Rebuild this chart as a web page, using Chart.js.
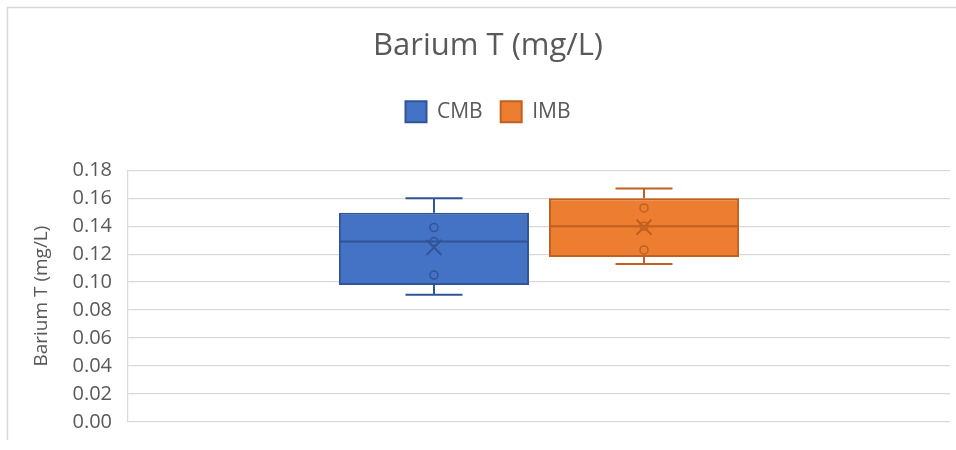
<!DOCTYPE html>
<html>
<head>
<meta charset="utf-8">
<script src="https://cdn.jsdelivr.net/npm/chart.js@4/dist/chart.umd.min.js"></script>
<style>
  html, body { margin: 0; padding: 0; background: #ffffff; }
  #wrap { width: 956px; height: 450px; position: relative; }
</style>
</head>
<body>
<div id="wrap"><canvas id="chart"></canvas></div>
<script>
// Series names and raw measurements (mg/L)
const seriesNames = ['CMB', 'IMB'];
const cmbValues = [0.091, 0.105, 0.129, 0.139, 0.160];
const imbValues = [0.113, 0.123, 0.140, 0.153, 0.167];
const categoryLabels = [''];
const yTicks = { min: 0, max: 0.18, step: 0.02 };

const fillColors = ['#4472C4', '#ED7D31'];
const lineColors = ['#2F5597', '#C0601E'];

// Quartiles with the exclusive method: position p*(n+1)
function quantileExc(sorted, p) {
  const pos = p * (sorted.length + 1);
  const lo = Math.floor(pos), frac = pos - lo;
  const a = sorted[Math.max(lo - 1, 0)];
  const b = sorted[Math.min(lo, sorted.length - 1)];
  return a + (b - a) * frac;
}
function summarize(values) {
  const s = [...values].sort((a, b) => a - b);
  return {
    min: s[0],
    max: s[s.length - 1],
    q1: quantileExc(s, 0.25),
    median: quantileExc(s, 0.5),
    q3: quantileExc(s, 0.75),
    mean: s.reduce((t, v) => t + v, 0) / s.length,
    inner: s.slice(1, -1)
  };
}
const stats = [summarize(cmbValues), summarize(imbValues)];

// Whiskers, median line, inner points and mean marker drawn on top of each box
const boxDetails = {
  id: 'boxDetails',
  afterDatasetsDraw(chart) {
    const ctx = chart.ctx;
    const y = chart.scales.y;
    chart.data.datasets.forEach((ds, i) => {
      const st = stats[i];
      const meta = chart.getDatasetMeta(i);
      meta.data.forEach(bar => {
        const { x, width } = bar.getProps(['x', 'width'], true);
        const left = x - width / 2, right = x + width / 2;
        const cap = width * 0.15;
        ctx.save();
        ctx.strokeStyle = lineColors[i];
        ctx.lineWidth = 2;
        ctx.beginPath();
        // upper whisker
        ctx.moveTo(x, y.getPixelForValue(st.q3));
        ctx.lineTo(x, y.getPixelForValue(st.max));
        ctx.moveTo(x - cap, y.getPixelForValue(st.max));
        ctx.lineTo(x + cap, y.getPixelForValue(st.max));
        // lower whisker
        ctx.moveTo(x, y.getPixelForValue(st.q1));
        ctx.lineTo(x, y.getPixelForValue(st.min));
        ctx.moveTo(x - cap, y.getPixelForValue(st.min));
        ctx.lineTo(x + cap, y.getPixelForValue(st.min));
        // median
        ctx.moveTo(left, y.getPixelForValue(st.median));
        ctx.lineTo(right, y.getPixelForValue(st.median));
        ctx.stroke();
        // inner points
        ctx.lineWidth = 1.5;
        st.inner.forEach(v => {
          ctx.beginPath();
          ctx.arc(x, y.getPixelForValue(v), 4, 0, Math.PI * 2);
          ctx.stroke();
        });
        // mean marker
        const my = y.getPixelForValue(st.mean);
        const r = 7.5;
        ctx.lineWidth = 2;
        ctx.beginPath();
        ctx.moveTo(x - r, my - r); ctx.lineTo(x + r, my + r);
        ctx.moveTo(x + r, my - r); ctx.lineTo(x - r, my + r);
        ctx.stroke();
        ctx.restore();
      });
    });
  }
};

// Light frame around the chart
const frame = {
  id: 'frame',
  beforeDraw(chart) {
    const ctx = chart.ctx;
    ctx.save();
    ctx.fillStyle = '#ffffff';
    ctx.fillRect(0, 0, chart.width, chart.height);
    ctx.strokeStyle = '#d9d9d9';
    ctx.lineWidth = 1.5;
    ctx.beginPath();
    ctx.moveTo(7.5, 440);
    ctx.lineTo(7.5, 7.5);
    ctx.lineTo(chart.width, 7.5);
    ctx.stroke();
    ctx.restore();
  }
};

// Extra room between the legend and the plot
const legendGap = {
  id: 'legendGap',
  beforeInit(chart) {
    const fit = chart.legend.fit;
    chart.legend.fit = function () {
      fit.call(this);
      this.height += 38;
    };
  }
};

const textColor = '#595959';
const fontFamily = '"Open Sans", "Noto Sans", sans-serif';

new Chart(document.getElementById('chart'), {
  type: 'bar',
  data: {
    labels: categoryLabels,
    datasets: seriesNames.map((name, i) => ({
      label: name,
      data: [[stats[i].q1, stats[i].q3]],
      backgroundColor: fillColors[i],
      borderColor: lineColors[i],
      borderWidth: 2,
      borderSkipped: false,
      categoryPercentage: 0.511,
      barPercentage: 0.905
    }))
  },
  options: {
    responsive: true,
    maintainAspectRatio: false,
    animation: false,
    layout: { padding: { top: 14, right: 6, bottom: 22, left: 26 } },
    plugins: {
      title: {
        display: true,
        text: 'Barium T (mg/L)',
        color: textColor,
        font: { family: fontFamily, size: 31, weight: 'normal' },
        padding: { top: 14, bottom: 18 }
      },
      legend: {
        display: true,
        position: 'top',
        labels: {
          color: textColor,
          font: { family: fontFamily, size: 21 },
          boxWidth: 21,
          boxHeight: 21,
          padding: 18
        }
      },
      tooltip: { enabled: false }
    },
    scales: {
      x: {
        display: false,
        grid: { display: false }
      },
      y: {
        min: yTicks.min,
        max: yTicks.max,
        ticks: {
          stepSize: yTicks.step,
          color: textColor,
          font: { family: fontFamily, size: 20 },
          padding: 16,
          callback: v => Number(v).toFixed(2)
        },
        grid: { color: '#d9d9d9', lineWidth: 1.25, drawTicks: false },
        border: { display: true, color: '#d9d9d9', width: 1.25 },
        title: {
          display: true,
          text: 'Barium T (mg/L)',
          color: textColor,
          font: { family: fontFamily, size: 19 },
          padding: { top: 4, bottom: 0 }
        },
        afterFit(scale) { scale.width = 102; }
      }
    }
  },
  plugins: [frame, legendGap, boxDetails]
});
</script>
</body>
</html>
